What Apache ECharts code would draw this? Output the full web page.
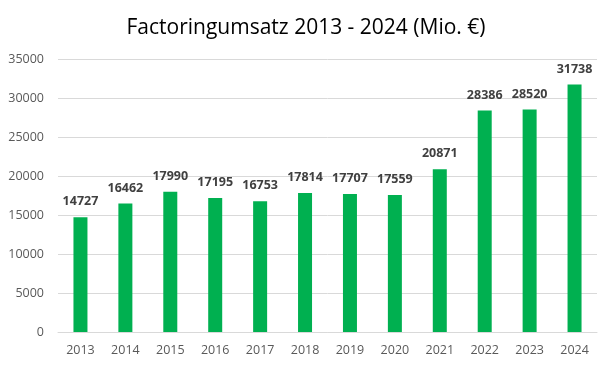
<!DOCTYPE html>
<html><head><meta charset="utf-8">
<script src="https://cdn.jsdelivr.net/npm/echarts@6/dist/echarts.min.js"></script>
<style>html,body{margin:0;padding:0;background:#fff}#c{width:612px;height:370px}</style>
</head><body><div id="c"></div>
<script>
const categories = ['2013','2014','2015','2016','2017','2018','2019','2020','2021','2022','2023','2024'];
const values = [14727,16462,17990,17195,16753,17814,17707,17559,20871,28386,28520,31738];
const titleText = 'Factoringumsatz 2013 - 2024 (Mio. €)';
const chart = echarts.init(document.getElementById('c'));
chart.setOption({
  animation:false,
  title:{text:titleText,left:'center',top:13,textStyle:{fontFamily:'Open Sans',fontSize:21,fontWeight:'normal',color:'#000'}},
  grid:{left:58,right:15,top:59,bottom:38},
  xAxis:{type:'category',data:categories,axisTick:{show:false},
    axisLine:{lineStyle:{color:'#d9d9d9'}},
    axisLabel:{color:'#595959',fontFamily:'Open Sans',fontSize:12.5,margin:12}},
  yAxis:{type:'value',min:0,max:35000,interval:5000,
    axisLabel:{color:'#595959',fontFamily:'Open Sans',fontSize:12.5,margin:14,formatter:v=>String(v)},
    splitLine:{lineStyle:{color:'#d9d9d9'}}},
  series:[{type:'bar',data:values,barWidth:14,itemStyle:{color:'#00B050'},
    label:{show:true,position:'top',distance:9,color:'#404040',fontWeight:'bold',fontFamily:'Open Sans',fontSize:12.5}}]
});
</script></body></html>
